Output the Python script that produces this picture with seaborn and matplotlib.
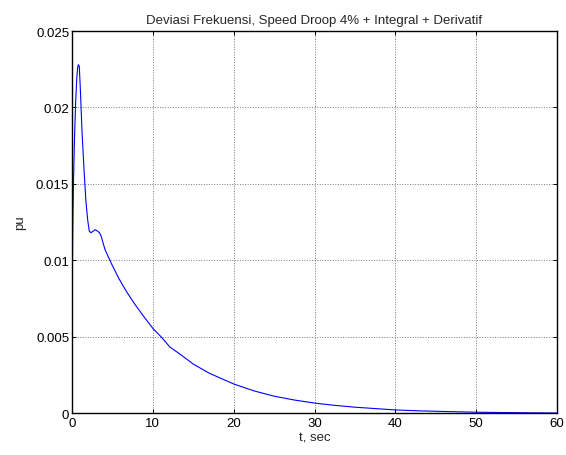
import matplotlib
matplotlib.use("Agg")
import matplotlib.pyplot as plt
import seaborn as sns
import numpy as np
import pandas as pd

# values
t_sec = [0.0, 0.03, 0.06, 0.12, 0.2, 0.3, 0.45, 0.6, 0.7, 0.78, 0.9, 1.05, 1.24,
         1.5, 1.73, 1.95, 2.14, 2.35, 2.55, 2.85, 3.17, 3.4, 3.59, 4.08, 4.9,
         5.8, 6.77, 7.8, 8.8, 10.06, 11.0, 12.1, 13.5, 15.0, 17.0, 20.0, 22.5,
         25.0, 27.5, 30.0, 32.5, 35.0, 37.5, 40.0, 43.0, 46.0, 50.0, 55.0, 60.0]
freq_dev = [0.0, 0.0030, 0.0100, 0.0130, 0.0155, 0.0178, 0.0203, 0.0220, 0.0226,
            0.0228, 0.0227, 0.0210, 0.0184, 0.0158, 0.0138, 0.0126, 0.0119, 0.0118,
            0.01187, 0.0120, 0.0119, 0.0118, 0.0116, 0.0107, 0.00975, 0.0088,
            0.00792, 0.0071, 0.00637, 0.0055, 0.0050, 0.00432, 0.0038, 0.0032,
            0.0026, 0.0019, 0.00145, 0.0011, 0.00085, 0.00065, 0.0005, 0.00038,
            0.00029, 0.0002, 0.00014, 0.0001, 0.00005, 0.00002, 0.0]

x_ticks = [0, 10, 20, 30, 40, 50, 60]
y_ticks = [0, 0.005, 0.01, 0.015, 0.02, 0.025]
y_tick_labels = ['0', '0.005', '0.01', '0.015', '0.02', '0.025']

df = pd.DataFrame({'t': t_sec, 'pu': freq_dev})

sns.set_style("ticks")
plt.rcParams['font.family'] = ['Liberation Sans', 'DejaVu Sans']

fig = plt.figure(figsize=(5.66, 4.56), dpi=100)
ax = fig.add_axes([0.1272, 0.0921, 0.857, 0.8377])

sns.lineplot(data=df, x='t', y='pu', ax=ax, color='#0000ff', linewidth=0.8)

ax.set_xlim(0, 60)
ax.set_ylim(0, 0.025)
ax.set_xticks(x_ticks)
ax.set_yticks(y_ticks)
ax.set_yticklabels(y_tick_labels)
ax.grid(True, color='#777777', linestyle=':', linewidth=0.7)
ax.tick_params(direction='in', length=3, width=0.7, labelsize=9.5, colors='black',
               top=True, right=True, pad=2)
ax.tick_params(axis='x', pad=3)
for s in ax.spines.values():
    s.set_linewidth(1.0)
    s.set_color('black')

ax.set_title('Deviasi Frekuensi, Speed Droop 4% + Integral + Derivatif', fontsize=9.5, pad=6)
ax.set_xlabel('t, sec', fontsize=9.5, labelpad=2)
ax.set_ylabel('pu', fontsize=9.5, labelpad=7)

fig.savefig('out.png', dpi=100)
